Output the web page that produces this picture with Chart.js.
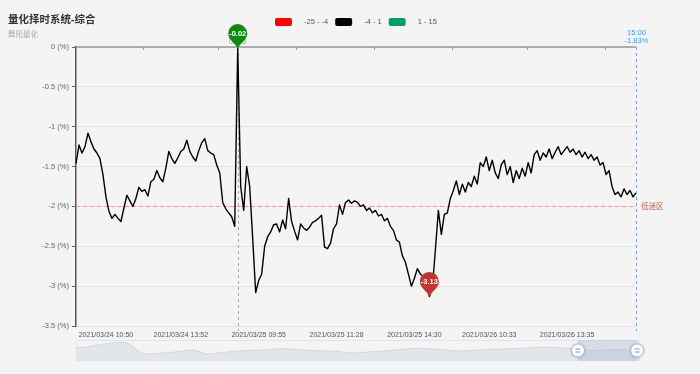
<!DOCTYPE html>
<html>
<head>
<meta charset="utf-8">
<title>量化择时系统-综合</title>
<script src="https://cdn.jsdelivr.net/npm/chart.js@4.4.1/dist/chart.umd.min.js"></script>
<style>
  html, body { margin: 0; padding: 0; background: #f4f4f4; }
  #wrap { position: relative; width: 700px; height: 374px; overflow: hidden; }
  #main { position: absolute; left: 0; top: 0; }
  #overview { position: absolute; left: 66px; top: 338px; }
</style>
</head>
<body>
<div id="wrap">
  <canvas id="main" width="700" height="374"></canvas>
  <canvas id="overview" width="590" height="24"></canvas>
</div>
<script>
// Chart data
var values = [
  -1.46, -1.23, -1.33, -1.25, -1.08, -1.19, -1.28, -1.33, -1.40, -1.60,
  -1.88, -2.06, -2.15, -2.10, -2.15, -2.19, -2.02, -1.86, -1.93, -2.00,
  -1.90, -1.76, -1.81, -1.79, -1.87, -1.69, -1.66, -1.55, -1.64, -1.69,
  -1.52, -1.31, -1.40, -1.46, -1.39, -1.31, -1.28, -1.17, -1.31, -1.38,
  -1.43, -1.30, -1.20, -1.15, -1.30, -1.33, -1.35, -1.48, -1.58, -1.95,
  -2.03, -2.08, -2.13, -2.25, -0.02, -1.75, -2.05, -1.50, -1.75, -2.40,
  -3.08, -2.93, -2.85, -2.50, -2.38, -2.32, -2.23, -2.22, -2.32, -2.17,
  -2.28, -1.90, -2.19, -2.31, -2.42, -2.22, -2.27, -2.30, -2.26, -2.20,
  -2.18, -2.15, -2.11, -2.51, -2.53, -2.46, -2.28, -2.22, -1.98, -2.10,
  -1.95, -1.92, -1.96, -1.93, -1.95, -2.00, -1.98, -2.05, -2.02, -2.08,
  -2.05, -2.12, -2.10, -2.18, -2.15, -2.25, -2.30, -2.42, -2.45, -2.62,
  -2.70, -2.85, -3.00, -2.90, -2.78, -2.85, -2.88, -2.95, -3.13, -3.02,
  -2.55, -2.05, -2.35, -2.10, -2.08, -1.90, -1.80, -1.68, -1.85, -1.72,
  -1.82, -1.70, -1.75, -1.62, -1.72, -1.45, -1.50, -1.38, -1.55, -1.42,
  -1.58, -1.65, -1.48, -1.42, -1.60, -1.50, -1.70, -1.55, -1.65, -1.52,
  -1.62, -1.45, -1.58, -1.35, -1.30, -1.42, -1.33, -1.38, -1.28, -1.40,
  -1.32, -1.25, -1.35, -1.30, -1.25, -1.32, -1.28, -1.35, -1.30, -1.38,
  -1.32, -1.40, -1.35, -1.42, -1.38, -1.48, -1.45, -1.60, -1.55, -1.75,
  -1.85, -1.82, -1.88, -1.78, -1.85, -1.80, -1.88, -1.83
];
var tickIdx = [10, 35, 61, 87, 113, 138, 164];
var tickLabels = ['2021/03/24 10:50', '2021/03/24 13:52', '2021/03/25 09:55', '2021/03/25 11:28',
  '2021/03/25 14:30', '2021/03/26 10:33', '2021/03/26 13:35'];
var yMin = -3.5;
var yMax = 0;
var yStep = 0.5;
var lowLine = -2;
var lowLineLabel = '低迷区';
var lastTime = '15:00';
var maxNote = '0.023';

// visualMap pieces
var pieceLabels = ['-25 - -4', '-4 - 1', '1 - 15'];
var pieceRanges = [[-25, -4], [-4, 1], [1, 15]];
var pieceColors = ['#ff0000', '#000000', '#009e6b'];

// data zoom slider
var overviewValues = [
  30, 33, 38, 42, 40, 18, 17, 19, 22, 25, 16, 19, 22, 24, 25, 27, 28, 26, 24, 23, 22,
  18, 20, 22, 24, 27, 29, 28, 26, 23, 24, 26, 27, 28, 29, 31, 32, 30, 28, 25, 24, 26, 25, 24
];
var zoomStart = 89;
var zoomEnd = 99.5;

var FONT = '"Liberation Sans", "Noto Sans CJK SC", sans-serif';
Chart.defaults.font.family = FONT;

var labels = values.map(function(v, i) {
  var k = tickIdx.indexOf(i);
  return k >= 0 ? tickLabels[k] : '';
});

function pieceColor(v) {
  for (var i = 0; i < pieceRanges.length; i++) {
    if (v >= pieceRanges[i][0] && v <= pieceRanges[i][1]) return pieceColors[i];
  }
  return '#000';
}

function indexOfMax(arr) {
  var m = 0;
  for (var i = 1; i < arr.length; i++) if (arr[i] > arr[m]) m = i;
  return m;
}
function indexOfMin(arr) {
  var m = 0;
  for (var i = 1; i < arr.length; i++) if (arr[i] < arr[m]) m = i;
  return m;
}

function drawPin(ctx, x, y, color, text) {
  var r = 9.5, cy = y - 15, a = 0.75;
  ctx.beginPath();
  ctx.arc(x, cy, r, Math.PI / 2 + a, Math.PI / 2 - a + Math.PI * 2);
  ctx.quadraticCurveTo(x + 2, y - 4, x, y);
  ctx.quadraticCurveTo(x - 2, y - 4, x - r * Math.sin(a), cy + r * Math.cos(a));
  ctx.closePath();
  ctx.fillStyle = color;
  ctx.fill();
  ctx.fillStyle = '#fff';
  ctx.font = 'bold 7.5px ' + FONT;
  ctx.textAlign = 'center';
  ctx.textBaseline = 'middle';
  ctx.fillText(text, x, cy);
}

var decorPlugin = {
  id: 'decor',
  beforeDatasetsDraw: function(chart) {
    var ctx = chart.ctx, area = chart.chartArea;
    var xs = chart.scales.x, ys = chart.scales.y;
    ctx.save();

    // x axis sits on zero, i.e. the top edge
    ctx.strokeStyle = '#999';
    ctx.lineWidth = 1.5;
    ctx.beginPath();
    ctx.moveTo(area.left, area.top);
    ctx.lineTo(area.right, area.top);
    ctx.stroke();
    var step = xs.getPixelForValue(tickIdx[1]) - xs.getPixelForValue(tickIdx[0]);
    ctx.lineWidth = 1;
    tickIdx.forEach(function(i) {
      var px = Math.round(xs.getPixelForValue(i) + step / 2) + 0.5;
      ctx.beginPath();
      ctx.moveTo(px, area.top);
      ctx.lineTo(px, area.top + 3);
      ctx.stroke();
    });

    // low zone line
    var ly = Math.round(ys.getPixelForValue(lowLine)) + 0.5;
    ctx.setLineDash([4, 3]);
    ctx.strokeStyle = '#e3a1a1';
    ctx.beginPath();
    ctx.moveTo(area.left, ly);
    ctx.lineTo(area.right, ly);
    ctx.stroke();
    ctx.setLineDash([]);
    ctx.fillStyle = '#d9534f';
    ctx.font = '7.5px ' + FONT;
    ctx.textAlign = 'left';
    ctx.textBaseline = 'middle';
    ctx.fillText(lowLineLabel, area.right + 5, ly);

    // vertical line at the max point
    var mi = indexOfMax(values);
    var mx = Math.round(xs.getPixelForValue(mi)) + 0.5;
    ctx.setLineDash([3, 3]);
    ctx.strokeStyle = '#aaa';
    ctx.beginPath();
    ctx.moveTo(mx, area.top);
    ctx.lineTo(mx, area.bottom + 5);
    ctx.stroke();

    // vertical line at the last point
    var last = values.length - 1;
    var lx = Math.round(xs.getPixelForValue(last)) + 0.5;
    ctx.strokeStyle = '#6aa9ef';
    ctx.beginPath();
    ctx.moveTo(lx, area.top);
    ctx.lineTo(lx, area.bottom + 5);
    ctx.stroke();
    ctx.setLineDash([]);
    ctx.fillStyle = '#4a93e6';
    ctx.textAlign = 'center';
    ctx.fillText(lastTime, lx, area.top - 14);
    ctx.fillText(values[last].toFixed(2) + '%', lx, area.top - 6);

    ctx.restore();
  },
  afterDatasetsDraw: function(chart) {
    var ctx = chart.ctx, xs = chart.scales.x, ys = chart.scales.y;
    var mi = indexOfMax(values), ni = indexOfMin(values);
    ctx.save();
    ctx.fillStyle = '#999';
    ctx.font = '7px ' + FONT;
    ctx.textAlign = 'center';
    ctx.textBaseline = 'middle';
    ctx.fillText(maxNote, xs.getPixelForValue(mi), ys.getPixelForValue(values[mi]) - 7);
    drawPin(ctx, xs.getPixelForValue(mi), ys.getPixelForValue(values[mi]), '#128a12', values[mi].toFixed(2));
    drawPin(ctx, xs.getPixelForValue(ni), ys.getPixelForValue(values[ni]), '#c23531', values[ni].toFixed(2));
    ctx.restore();
  },
  afterDraw: function(chart) {
    var ctx = chart.ctx;
    ctx.save();
    // title
    ctx.textAlign = 'left';
    ctx.textBaseline = 'middle';
    ctx.fillStyle = '#333';
    ctx.font = 'bold 10.5px ' + FONT;
    ctx.fillText('量化择时系统-综合', 8, 20);
    ctx.fillStyle = '#aaa';
    ctx.font = '7.5px ' + FONT;
    ctx.fillText('舞阳量化', 8, 35);

    // visualMap legend
    var bx = 275;
    ctx.font = '7.5px ' + FONT;
    for (var i = 0; i < pieceLabels.length; i++) {
      ctx.fillStyle = pieceColors[i];
      ctx.beginPath();
      ctx.roundRect(bx, 18, 17, 8, 2);
      ctx.fill();
      ctx.fillStyle = '#555';
      ctx.fillText(pieceLabels[i], bx + 29, 22);
      bx += 29 + ctx.measureText(pieceLabels[i]).width + 7;
    }
    ctx.restore();
  }
};

new Chart(document.getElementById('main'), {
  type: 'line',
  data: {
    labels: labels,
    datasets: [{
      data: values,
      borderColor: '#000',
      borderWidth: 1.4,
      pointRadius: 0,
      tension: 0,
      fill: false,
      borderJoinStyle: 'round',
      segment: {
        borderColor: function(c) { return pieceColor(c.p1.parsed.y); }
      }
    }]
  },
  options: {
    responsive: false,
    animation: false,
    layout: { padding: { left: 0, top: 47, right: 64, bottom: 28 } },
    plugins: { legend: { display: false }, tooltip: { enabled: false } },
    scales: {
      x: {
        type: 'category',
        grid: { display: false, drawTicks: false },
        border: { display: false },
        ticks: {
          autoSkip: false,
          maxRotation: 0,
          color: '#555',
          font: { size: 7 },
          padding: 5,
          callback: function(v) { return this.getLabelForValue(v); }
        },
        afterBuildTicks: function(s) {
          s.ticks = tickIdx.map(function(i) { return { value: i }; });
        },
        afterFit: function(s) { s.height = 20; }
      },
      y: {
        min: yMin,
        max: yMax,
        grid: { color: '#e2e2e2', tickColor: '#666', tickLength: 4 },
        border: { display: true, color: '#555', width: 1.5 },
        ticks: {
          stepSize: yStep,
          color: '#666',
          font: { size: 7.5 },
          padding: 3,
          callback: function(v) { return v + ' (%)'; }
        },
        afterFit: function(s) { s.width = 76; }
      }
    }
  },
  plugins: [decorPlugin]
});

// data zoom slider below the chart
var sliderPlugin = {
  id: 'slider',
  afterDraw: function(chart) {
    var ctx = chart.ctx, a = chart.chartArea;
    var w = a.right - a.left;
    var x0 = a.left + w * zoomStart / 100, x1 = a.left + w * zoomEnd / 100;
    var cy = (a.top + a.bottom) / 2;
    ctx.save();
    ctx.strokeStyle = '#dfe3ea';
    ctx.strokeRect(a.left + 0.5, a.top + 0.5, w - 1, a.bottom - a.top - 1);
    ctx.fillStyle = 'rgba(160,178,204,0.35)';
    ctx.fillRect(x0, a.top, x1 - x0, a.bottom - a.top);
    [x0, x1].forEach(function(hx) {
      ctx.shadowColor = 'rgba(0,0,0,0.3)';
      ctx.shadowBlur = 3;
      ctx.fillStyle = '#fff';
      ctx.beginPath();
      ctx.arc(hx, cy, 6.5, 0, Math.PI * 2);
      ctx.fill();
      ctx.shadowBlur = 0;
      ctx.strokeStyle = '#a7b7cc';
      ctx.lineWidth = 1;
      ctx.stroke();
      ctx.strokeStyle = '#8a96a6';
      ctx.beginPath();
      ctx.moveTo(hx - 2.5, cy - 1.5); ctx.lineTo(hx + 2.5, cy - 1.5);
      ctx.moveTo(hx - 2.5, cy + 1.5); ctx.lineTo(hx + 2.5, cy + 1.5);
      ctx.stroke();
    });
    ctx.restore();
  }
};

new Chart(document.getElementById('overview'), {
  type: 'line',
  data: {
    labels: overviewValues.map(function(v, i) { return i; }),
    datasets: [{
      data: overviewValues,
      borderColor: '#cbd0d7',
      borderWidth: 0.8,
      backgroundColor: '#e2e5ea',
      fill: 'start',
      pointRadius: 0,
      tension: 0.3
    }]
  },
  options: {
    responsive: false,
    animation: false,
    layout: { padding: { left: 10, right: 16, top: 2, bottom: 1 } },
    plugins: { legend: { display: false }, tooltip: { enabled: false } },
    scales: {
      x: { display: false },
      y: { display: false, min: 0, max: 48 }
    }
  },
  plugins: [sliderPlugin]
});
</script>
</body>
</html>
